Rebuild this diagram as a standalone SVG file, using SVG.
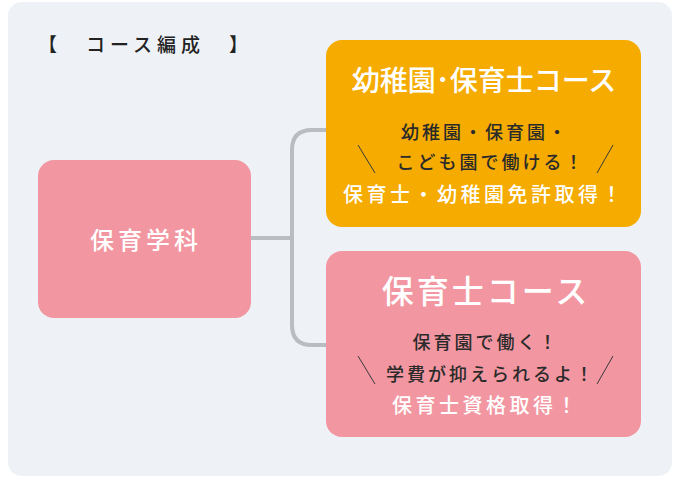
<svg xmlns="http://www.w3.org/2000/svg" width="681" height="481" viewBox="0 0 681 481">
<style>
text{font-family:"Noto Sans CJK JP",sans-serif;text-anchor:middle;font-weight:500}
.w{fill:#fff}.d{fill:#2a2a2a}.s{stroke:#3a3a3a;stroke-width:1}
.m{font-size:18px;letter-spacing:3px}.b{font-size:20px;letter-spacing:3.5px}
</style>
<rect x="8" y="2" width="664" height="474" rx="14" fill="#eef2f6"/>
<text x="38" y="52" font-size="19" font-weight="bold" fill="#222" letter-spacing="5" style="text-anchor:start" xml:space="preserve">【　コース編成　】</text>
<g id="connectors" fill="none" stroke="#b9bcc0" stroke-width="4">
<path d="M251,238 H292"/>
<path d="M326,130 H312 Q292,130 292,150 V325 Q292,345 312,345 H326"/>
</g>
<g id="gakka"><rect x="38" y="160" width="213" height="158" rx="16" fill="#f297a1"/>
<text x="146" y="249" font-size="24" letter-spacing="4" class="w">保育学科</text></g>
<g id="course1"><rect x="326" y="40" width="315" height="187" rx="16" fill="#f5ab00"/>
<text x="484" y="91" font-size="28" font-weight="bold" class="w">幼稚園･保育士コース</text>
<text x="485" y="139" class="d m">幼稚園・保育園・</text>
<text x="491" y="169" class="d m">こども園で働ける！</text>
<line x1="358" y1="145" x2="375" y2="173" class="s"/><line x1="613" y1="145" x2="597" y2="173" class="s"/>
<text x="484" y="202" class="w b">保育士・幼稚園免許取得！</text></g>
<g id="course2"><rect x="326" y="251" width="315" height="186" rx="16" fill="#f297a1"/>
<text x="486" y="303" font-size="32" letter-spacing="3" class="w">保育士コース</text>
<text x="486" y="349" class="d m">保育園で働く！</text>
<text x="491" y="381" class="d m">学費が抑えられるよ！</text>
<line x1="358" y1="356" x2="375" y2="384" class="s"/><line x1="613" y1="356" x2="597" y2="384" class="s"/>
<text x="486" y="413" class="w b">保育士資格取得！</text></g>
</svg>
